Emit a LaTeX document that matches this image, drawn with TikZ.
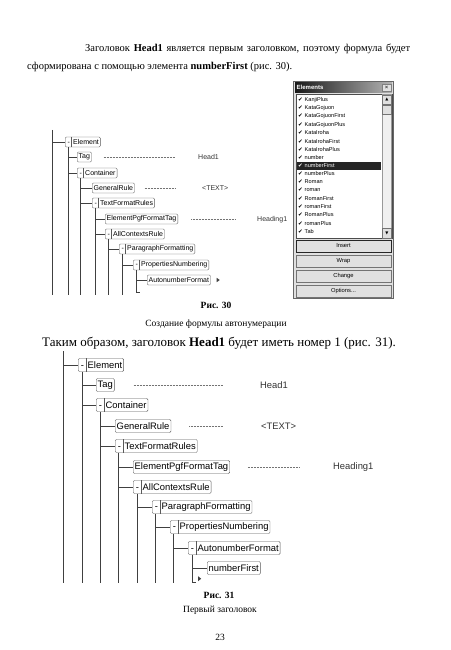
\documentclass[tikz,border=0pt]{standalone}
\usepackage{fontspec}
\setmainfont{Liberation Serif}
\setsansfont{Liberation Sans}
\newfontfamily\symfont{DejaVu Sans}
\usetikzlibrary{calc}
\definecolor{boxgray}{gray}{0.35}
\definecolor{linegray}{gray}{0.25}
\definecolor{facegray}{gray}{0.88}
\definecolor{selgray}{gray}{0.15}

% text of a node with a collapse button in front
\newcommand{\tgl}[2][4pt]{\makebox[#1]{-}\hspace{2.5pt}#2}

\tikzset{
  elbox/.style={draw=boxgray, rounded corners=1.2pt, fill=white, anchor=west,
                inner xsep=1.5pt, inner ysep=0pt},
  small/.style={elbox, font=\sffamily\fontsize{7}{8}\selectfont, minimum height=10pt},
  big/.style={elbox, font=\sffamily\fontsize{9.4}{10}\selectfont, minimum height=13pt},
  split/.style={append after command={([xshift=#1]\tikzlastnode.north west)
                edge[draw=boxgray] ([xshift=#1]\tikzlastnode.south west)}},
  rail/.style={draw=linegray, line width=0.5pt},
  leader/.style={draw=black!55, line width=0.5pt, dash pattern=on 0.5pt off 1pt},
  value/.style={anchor=west, inner sep=0pt, text=black!80},
  item/.style={anchor=west, inner sep=0pt, font=\sffamily\fontsize{5.6}{6}\selectfont},
  selitem/.style={item, text=white},
  btn/.style={draw=black!55, fill=facegray, minimum width=95pt, minimum height=12pt,
              inner sep=0pt, font=\sffamily\fontsize{5.8}{6}\selectfont},
  scbtn/.style={draw=black!55, fill=facegray, minimum width=9.5pt, minimum height=9.5pt,
                inner sep=0pt, font=\symfont\fontsize{4}{4}\selectfont},
  para/.style={anchor=west, inner sep=0pt},
  capt/.style={inner sep=0pt, font=\fontsize{9.5}{11}\selectfont}
}

\begin{document}
\begin{tikzpicture}[x=1pt, y=-1pt]
\path[fill=white] (0,0) rectangle (450,650);

% text above the first figure
\node[para, font=\fontsize{10.5}{12}\selectfont] (p1) at (85,49)
  {\makebox[325pt][s]{Заголовок \textbf{Head1} является первым заголовком, поэтому формула будет}};
\node[para, font=\fontsize{10.5}{12}\selectfont] (p2) at (27,67)
  {сформирована с помощью элемента \textbf{numberFirst} (рис. 30).};

% --- Fig. 30: tree
\node[small, split=6.5pt] (elm1) at (65,142) {\tgl{Element}};
\node[small] (tag1) at (77,157) {Tag};
\node[small, split=6.5pt] (con1) at (77,173) {\tgl{Container}};
\node[small] (gen1) at (92,188) {GeneralRule};
\node[small, split=6.5pt] (tfr1) at (92,203) {\tgl{TextFormatRules}};
\node[small] (epf1) at (105,219) {ElementPgfFormatTag};
\node[small, split=6.5pt] (acr1) at (105,234) {\tgl{AllContextsRule}};
\node[small, split=6.5pt] (par1) at (119,249) {\tgl{ParagraphFormatting}};
\node[small, split=6.5pt] (pro1) at (133,265) {\tgl{PropertiesNumbering}};
\node[small] (aut1) at (147,280) {AutonumberFormat};

\node[value, font=\sffamily\fontsize{7}{8}\selectfont] (hd1) at (198,157) {Head1};
\node[value, font=\sffamily\fontsize{7}{8}\selectfont] (txt1) at (202,188) {<TEXT>};
\node[value, font=\sffamily\fontsize{7}{8}\selectfont] (hg1) at (257,220) {Heading1};

\coordinate (root1) at (52,130);
\coordinate (bot1) at (0,295);
\coordinate (ra1) at ($(elm1.south west)+(3,0)$);
\coordinate (rb1) at ($(con1.south west)+(3,0)$);
\coordinate (rc1) at ($(tfr1.south west)+(3,0)$);
\coordinate (rd1) at ($(acr1.south west)+(3,0)$);
\coordinate (re1) at ($(par1.south west)+(3,0)$);
\coordinate (rf1) at ($(pro1.south west)+(3,0)$);

\draw[rail] (root1) -- (root1 |- bot1);
\draw[rail] (ra1) -- (ra1 |- bot1);
\draw[rail] (rb1) -- (rb1 |- bot1);
\draw[rail] (rc1) -- (rc1 |- bot1);
\draw[rail] (rd1) -- (rd1 |- bot1);
\draw[rail] (re1) -- (re1 |- bot1);
\draw[rail] (rf1) -- ($(rf1 |- bot1)+(0,-3)$) -- +(4,0);
\draw[rail] (root1 |- elm1.west) -- (elm1.west);
\draw[rail] (ra1 |- tag1.west) -- (tag1.west);
\draw[rail] (ra1 |- con1.west) -- (con1.west);
\draw[rail] (rb1 |- gen1.west) -- (gen1.west);
\draw[rail] (rb1 |- tfr1.west) -- (tfr1.west);
\draw[rail] (rc1 |- epf1.west) -- (epf1.west);
\draw[rail] (rc1 |- acr1.west) -- (acr1.west);
\draw[rail] (rd1 |- par1.west) -- (par1.west);
\draw[rail] (re1 |- pro1.west) -- (pro1.west);
\draw[rail] (rf1 |- aut1.west) -- (aut1.west);

\draw[leader, shorten <=12pt, shorten >=23pt] (tag1.east) -- (hd1.west);
\draw[leader, shorten <=10pt, shorten >=27pt] (gen1.east) -- (txt1.west);
\draw[leader, shorten <=13pt, shorten >=22pt] (epf1.east) -- (hg1.west |- epf1.east);
\fill[linegray] ($(aut1.east)+(6,-2.2)$) -- ++(0,4.4) -- ++(3,-2.2) -- cycle;

% --- Elements window
\draw[black!60, fill=facegray] (293.5,81.5) rectangle (393.5,298.5);
\shade[left color=black!90, right color=black!30] (295,83) rectangle (392,92.5);
\node[anchor=west, inner sep=0pt, text=white, font=\sffamily\bfseries\fontsize{6}{6}\selectfont]
  (wtitle) at (296.5,87.8) {Elements};
\node[draw=black!50, fill=facegray, inner sep=0pt, minimum width=9pt, minimum height=7pt,
  font=\sffamily\fontsize{6}{6}\selectfont] (wclose) at (386.5,87.8) {×};
\draw[black!70, fill=white] (296,94) rectangle (392,238.5);
\draw[black!40, fill=black!6] (382,94.5) rectangle (391.5,238);
\node[scbtn] (sup) at (386.8,99.5) {▲};
\node[scbtn, minimum height=9pt] (sthumb) at (386.8,109.5) {};
\node[scbtn] (sdown) at (386.8,233) {▼};
\fill[selgray] (297,161.5) rectangle (381,169.8);
\foreach \nm/\st [count=\i from 0] in {KanjiPlus/item, KataGojuon/item, KataGojuonFirst/item,
    KataGojuonPlus/item, KataIroha/item, KataIrohaFirst/item, KataIrohaPlus/item,
    number/item, numberFirst/selitem, numberPlus/item, Roman/item, roman/item,
    RomanFirst/item, romanFirst/item, RomanPlus/item, romanPlus/item, Tab/item}
  \node[\st] (it\i) at (298,{100+8.2*\i}) {\makebox[6.5pt][l]{\symfont ✔}\nm};
\node[btn, draw=black!85, line width=0.8pt] (bins) at (343.5,246) {Insert};
\node[btn] (bwrap) at (343.5,261) {Wrap};
\node[btn] (bchg) at (343.5,276) {Change};
\node[btn] (bopt) at (343.5,291) {Options...};

% caption of Fig. 30 and next text line
\node[capt, font=\bfseries\fontsize{9.5}{11}\selectfont] (c30) at (216,305) {Рис. 30};
\node[capt] (s30) at (216,324) {Создание формулы автонумерации};
\node[para, font=\fontsize{13}{15}\selectfont] (p3) at (42,343)
  {Таким образом, заголовок \textbf{Head1} будет иметь номер 1 (рис. 31).};

% --- Fig. 31: tree
\node[big, split=8pt] (elm2) at (78,365) {\tgl[5.5pt]{Element}};
\node[big] (tag2) at (96,385) {Tag};
\node[big, split=8pt] (con2) at (96,405) {\tgl[5.5pt]{Container}};
\node[big] (gen2) at (115,426) {GeneralRule};
\node[big, split=8pt] (tfr2) at (115,446) {\tgl[5.5pt]{TextFormatRules}};
\node[big] (epf2) at (133,467) {ElementPgfFormatTag};
\node[big, split=8pt] (acr2) at (133,487) {\tgl[5.5pt]{AllContextsRule}};
\node[big, split=8pt] (par2) at (152,507) {\tgl[5.5pt]{ParagraphFormatting}};
\node[big, split=8pt] (pro2) at (170,527) {\tgl[5.5pt]{PropertiesNumbering}};
\node[big, split=8pt] (aut2) at (188,548) {\tgl[5.5pt]{AutonumberFormat}};
\node[big] (nf2) at (207,568) {numberFirst};

\node[value, font=\sffamily\fontsize{9.4}{10}\selectfont] (hd2) at (260,385) {Head1};
\node[value, font=\sffamily\fontsize{9.4}{10}\selectfont] (txt2) at (261,426) {<TEXT>};
\node[value, font=\sffamily\fontsize{9.4}{10}\selectfont] (hg2) at (333,467) {Heading1};

\coordinate (root2) at (63,351);
\coordinate (bot2) at (0,583);
\coordinate (ra2) at ($(elm2.south west)+(4,0)$);
\coordinate (rb2) at ($(con2.south west)+(4,0)$);
\coordinate (rc2) at ($(tfr2.south west)+(3.5,0)$);
\coordinate (rd2) at ($(acr2.south west)+(4,0)$);
\coordinate (re2) at ($(par2.south west)+(3.5,0)$);
\coordinate (rf2) at ($(pro2.south west)+(3.5,0)$);
\coordinate (rg2) at ($(aut2.south west)+(4,0)$);

\draw[rail] (root2) -- (root2 |- bot2);
\draw[rail] (ra2) -- (ra2 |- bot2);
\draw[rail] (rb2) -- (rb2 |- bot2);
\draw[rail] (rc2) -- (rc2 |- bot2);
\draw[rail] (rd2) -- (rd2 |- bot2);
\draw[rail] (re2) -- (re2 |- bot2);
\draw[rail] (rf2) -- (rf2 |- bot2);
\draw[rail] (rg2) -- ($(rg2 |- bot2)+(0,-1)$) -- +(4,0);
\draw[rail] (root2 |- elm2.west) -- (elm2.west);
\draw[rail] (ra2 |- tag2.west) -- (tag2.west);
\draw[rail] (ra2 |- con2.west) -- (con2.west);
\draw[rail] (rb2 |- gen2.west) -- (gen2.west);
\draw[rail] (rb2 |- tfr2.west) -- (tfr2.west);
\draw[rail] (rc2 |- epf2.west) -- (epf2.west);
\draw[rail] (rc2 |- acr2.west) -- (acr2.west);
\draw[rail] (rd2 |- par2.west) -- (par2.west);
\draw[rail] (re2 |- pro2.west) -- (pro2.west);
\draw[rail] (rf2 |- aut2.west) -- (aut2.west);
\draw[rail] (rg2 |- nf2.west) -- (nf2.west);

\draw[leader, shorten <=19pt, shorten >=37pt] (tag2.east) -- (hd2.west);
\draw[leader, shorten <=18pt, shorten >=38pt] (gen2.east) -- (txt2.west);
\draw[leader, shorten <=18pt, shorten >=33pt] (epf2.east) -- (hg2.west);
\fill[linegray] ($(rg2 |- nf2.south)+(6,1.5)$) -- ++(0,5) -- ++(3.2,-2.5) -- cycle;

% caption of Fig. 31 and page number
\node[capt, font=\bfseries\fontsize{9.5}{11}\selectfont] (c31) at (219,595) {Рис. 31};
\node[capt] (s31) at (220,610) {Первый заголовок};
\node[capt] (pg) at (220,637) {23};
\end{tikzpicture}
\end{document}
